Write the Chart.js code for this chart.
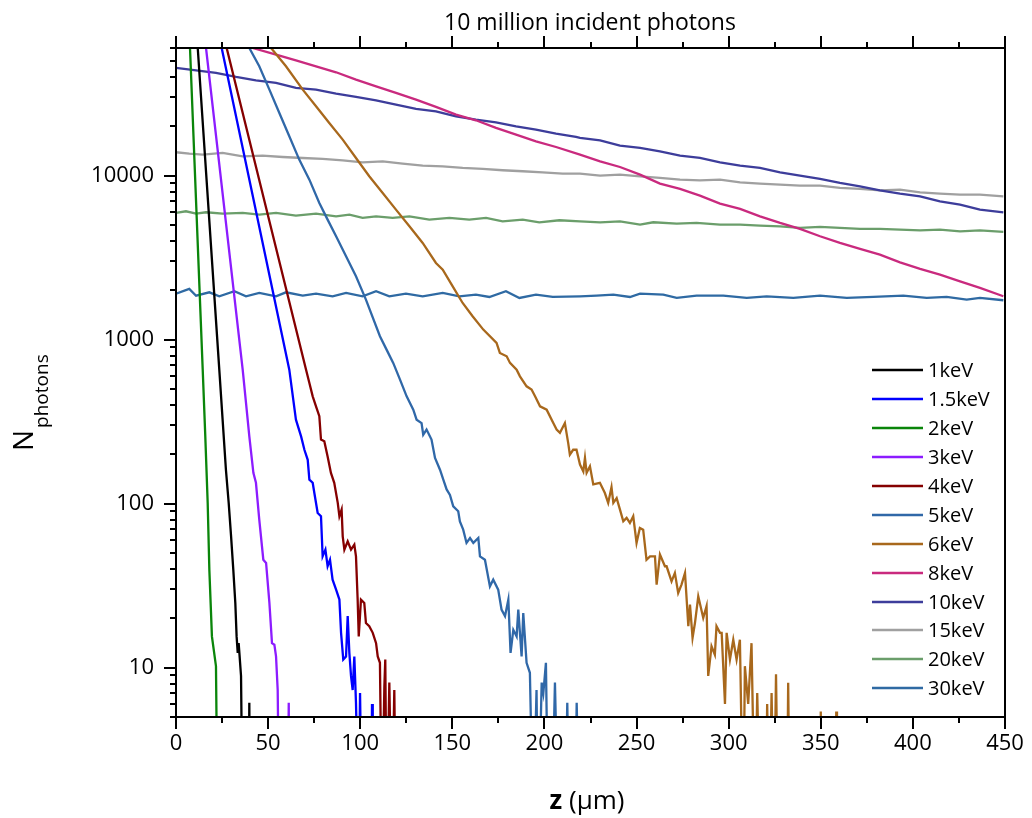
<!DOCTYPE html>
<html>
<head>
<meta charset="utf-8">
<title>Photon depth profiles</title>
<script src="https://cdn.jsdelivr.net/npm/chart.js@4.4.1/dist/chart.umd.min.js"></script>
<style>
  html, body { margin: 0; padding: 0; background: #fff; }
  #wrap { position: relative; width: 1032px; height: 818px; }
</style>
</head>
<body>
<div id="wrap"><canvas id="depthChart"></canvas></div>
<script>
// z (um) vs photon count. 1 = dropped below the axis floor
const seriesLabels = ['1keV', '1.5keV', '2keV', '3keV', '4keV', '5keV', '6keV', '8keV', '10keV', '15keV', '20keV', '30keV'];

const keV1 = [[11.8, 60000], [23.5, 656], [25.3, 325], [27.1, 161], [28.6, 101], [29.9, 63.2], [31.1, 39.6], [32.2, 24.8],
  [32.9, 15.5], [33.5, 12.3], [34.0, 14.1], [34.4, 12.3], [35.3, 8.9], [36.2, 1], [39.4, 1], [39.8, 6.1], [40.2, 1]];

const keV1_5 = [[24.8, 60000], [61.5, 656], [65.1, 325], [67.9, 257], [69.7, 213], [71.5, 185], [72.4, 140],
  [74.2, 134], [75.1, 116], [76.9, 87.7], [78.7, 83.7], [79.6, 47.7], [81.1, 52.4], [82.3, 41.5], [83.6, 45.5], [85.0, 34.4],
  [86.9, 29.9], [88.7, 26], [89.6, 16.3], [90.8, 11.2], [92.3, 11.7], [93.2, 20.6], [94.1, 12.3], [95.0, 8.9], [95.9, 7.3],
  [96.8, 11.7], [97.7, 6.1], [99.2, 1], [99.9, 7], [101.0, 1], [105.9, 1], [106.4, 6], [106.8, 1]];

const keV2 = [[7.6, 60000], [14.5, 656], [15.9, 257], [17.2, 101], [18.1, 39.6], [19.5, 15.5], [21.7, 10.2], [22.6, 1]];

const keV3 = [[16.3, 60000], [36.2, 656], [38.0, 411], [39.8, 257], [42.0, 154], [43.4, 134], [45.2, 79.9], [47.4, 45.5],
  [48.9, 43.5], [50.7, 24.8], [52.1, 14.1], [53.4, 13.8], [54.3, 11.7], [55.2, 7.3], [56.1, 1], [60.6, 1], [61.2, 6.1], [61.6, 1]];

const keV4 = [[27.5, 60000], [70.6, 656], [72.4, 544], [74.2, 451], [76.0, 392], [77.8, 341], [78.7, 246], [80.5, 240],
  [82.3, 194], [84.1, 154], [85.9, 134], [87.8, 101], [88.7, 83.7], [89.9, 91.9], [90.5, 63.2], [91.4, 52.4], [93.2, 58.9],
  [95.0, 52.4], [96.8, 56.2], [97.7, 47.7], [98.6, 26], [99.2, 15.5], [100.4, 26], [102.2, 24.8], [103.1, 18.7], [104.9, 17.9],
  [106.8, 16.3], [108.6, 14.1], [109.5, 11.7], [110.7, 10.7], [111.8, 1], [113.1, 7.7], [113.6, 11.2], [114.4, 1],
  [115.8, 8.1], [117.2, 1], [118.5, 7.3], [119.4, 1]];

const keV5 = [[39.8, 60000], [45.2, 46420], [50.7, 33450], [56.1, 24110], [61.5, 17370], [66.9, 12520], [72.4, 9454],
  [77.8, 6815], [82.3, 5392], [86.9, 4267], [92.3, 3222], [97.7, 2434], [103.1, 1754], [110.7, 1048], [114.3, 869],
  [117.9, 721], [121.6, 570], [125.2, 451], [128.8, 374], [130.6, 325], [133.3, 310], [134.2, 263], [136.0, 283],
  [138.7, 246], [140.6, 190], [143.3, 161], [145.1, 140], [146.9, 122], [148.7, 113], [150.5, 96.3], [153.2, 89.8],
  [154.1, 78], [155.9, 69.4], [157.7, 57.6], [159.6, 61.7], [161.4, 57.6], [164.1, 61.7], [165.0, 47.7], [167.7, 45.5],
  [170.4, 31.3], [172.2, 34.4], [174.9, 29.9], [176.7, 22.6], [178.6, 20.6], [180.4, 26], [181.6, 12.3], [183.1, 17],
  [184.9, 15.5], [185.8, 22.6], [187.6, 11.7], [188.5, 21.5], [190.3, 10.7], [192.1, 9.3], [193.9, 1], [195.7, 7.3],
  [196.6, 1], [198.5, 8.1], [199.4, 7], [200.8, 10.7], [202.1, 1], [203.9, 1], [205.7, 8.1], [207.5, 1], [211.1, 1],
  [212.4, 6.1], [213.5, 1], [216.5, 1], [217.5, 6.1], [218.9, 1]];

const keV6 = [[51.6, 60000], [59.7, 46420], [68.8, 33450], [76.0, 26480], [83.2, 20950], [90.5, 16580], [97.7, 12810],
  [104.9, 9906], [112.2, 7840], [119.4, 6205], [126.7, 4910], [133.9, 3886], [141.1, 2934], [144.8, 2672], [150.2, 2114],
  [155.6, 1673], [161.0, 1388], [166.8, 1151], [174.0, 954], [175.8, 829], [179.5, 791], [181.3, 721], [184.9, 656],
  [186.7, 597], [190.3, 519], [193.0, 496], [194.9, 451], [197.6, 392], [201.2, 374], [204.8, 310], [206.6, 283],
  [208.4, 270], [211.1, 310], [212.9, 234], [213.8, 199], [215.6, 213], [217.4, 213], [219.3, 173], [221.1, 157],
  [222.0, 190], [222.9, 154], [224.7, 169], [226.5, 131], [230.1, 134], [232.8, 116], [234.6, 101], [236.4, 126],
  [237.4, 101], [239.2, 108], [241.0, 91.9], [242.8, 78], [244.6, 81.8], [246.4, 76.2], [248.2, 83.7], [250.0, 57.6],
  [251.8, 71], [253.6, 69.4], [255.4, 45.5], [257.3, 47.7], [260.0, 47.7], [260.9, 32.1], [262.7, 48.9], [265.4, 41.5],
  [266.3, 41.5], [269.0, 33.6], [270.8, 37.8], [272.6, 28.5], [274.4, 32.1], [276.3, 37.8], [278.1, 17.9], [279.0, 24.2],
  [280.4, 15.2], [281.7, 18.7], [283.5, 27.2], [286.2, 20.1], [288.0, 23.7], [288.9, 8.9], [290.7, 13.5], [292.5, 12],
  [293.4, 17.9], [295.3, 16.3], [296.2, 16.3], [298.0, 6], [298.9, 16.3], [300.7, 11.2], [302.5, 14.8], [304.3, 11.2],
  [306.1, 14.8], [307.9, 1], [308.8, 10.2], [310.6, 6], [312.4, 14.1], [314.3, 1], [315.5, 7], [317.3, 1], [320.0, 1],
  [320.9, 6], [322.0, 1], [323.3, 7], [324.6, 1], [325.7, 9.1], [326.9, 1], [331.6, 1], [332.3, 8.1], [333.2, 1],
  [349.6, 1], [350.0, 5.4], [350.4, 1], [358.0, 1], [358.4, 5.4], [358.8, 1]];

const keV8 = [[41.6, 60000], [54.3, 54660], [65.1, 50500], [76.0, 46420], [86.9, 42670], [97.7, 38500], [108.6, 35050],
  [119.4, 31920], [130.3, 29070], [141.1, 26230], [152.0, 23550], [162.8, 21750], [173.7, 19530], [184.6, 17780],
  [195.4, 16190], [206.3, 14950], [219.3, 13430], [230.2, 12230], [241.0, 11290], [251.9, 10140], [262.7, 8936],
  [273.6, 8293], [284.4, 7551], [295.3, 6752], [306.2, 6263], [317.0, 5649], [327.9, 5145], [338.7, 4730], [349.6, 4267],
  [360.4, 3886], [371.3, 3572], [382.1, 3299], [393.0, 2961], [403.9, 2697], [414.7, 2491], [425.6, 2268], [436.4, 2066],
  [449.1, 1838]];

const keV10 = [[0, 45350], [10.9, 43880], [21.7, 42270], [32.6, 39960], [43.4, 38130], [54.3, 36730], [65.1, 34240],
  [76.0, 33450], [86.9, 31620], [97.7, 30180], [108.6, 28800], [119.4, 27090], [130.3, 25500], [141.1, 24680],
  [152.0, 23000], [162.8, 21960], [173.7, 21150], [184.6, 19990], [195.4, 19080], [206.3, 18040], [217.1, 17210],
  [219.3, 16970], [230.2, 16420], [241.0, 15240], [251.9, 14750], [262.7, 14070], [273.6, 13240], [284.4, 12810],
  [295.3, 12060], [306.2, 11510], [317.0, 11140], [327.9, 10480], [338.7, 10000], [349.6, 9543], [360.4, 9023],
  [371.3, 8610], [382.1, 8140], [393.0, 7768], [403.9, 7482], [414.7, 6976], [425.6, 6658], [436.4, 6205], [449.1, 5977]];

const keV15 = [[0, 13880], [7.2, 13620], [14.5, 13430], [25.3, 13750], [36.2, 13120], [47.0, 13240], [57.9, 12990],
  [68.8, 12810], [79.6, 12640], [90.5, 12400], [101.3, 12060], [112.2, 12230], [123.0, 11840], [133.9, 11510],
  [144.8, 11400], [155.6, 11140], [166.5, 10980], [177.3, 10780], [188.2, 10630], [199.0, 10480], [209.9, 10290],
  [219.3, 10290], [230.2, 10000], [241.0, 10140], [251.9, 9906], [262.7, 9678], [273.6, 9454], [284.4, 9365],
  [295.3, 9454], [306.2, 9104], [317.0, 8936], [327.9, 8811], [338.7, 8689], [349.6, 8689], [360.4, 8410], [371.3, 8293],
  [382.1, 8140], [393.0, 8216], [403.9, 7915], [414.7, 7768], [425.6, 7660], [436.4, 7660], [449.1, 7482]];

const keV20 = [[0, 5922], [5.4, 6060], [10.9, 5866], [16.3, 5978], [25.3, 5866], [36.2, 5922], [45.2, 5784], [54.3, 5922],
  [65.1, 5704], [76.0, 5866], [86.9, 5649], [94.1, 5784], [101.3, 5520], [108.6, 5649], [117.6, 5520], [126.7, 5649],
  [137.5, 5392], [148.4, 5520], [159.2, 5392], [168.3, 5520], [177.3, 5267], [188.2, 5392], [197.2, 5194], [208.1, 5342],
  [219.3, 5267], [230.2, 5194], [241.0, 5267], [251.9, 5026], [259.1, 5194], [271.8, 5097], [282.6, 5145], [295.3, 5026],
  [306.2, 5026], [317.0, 4956], [327.9, 4910], [338.7, 4797], [349.6, 4864], [360.4, 4797], [371.3, 4730], [382.1, 4730],
  [393.0, 4685], [403.9, 4642], [414.7, 4685], [425.6, 4577], [436.4, 4642], [449.1, 4535]];

const keV30 = [[0, 1907], [7.2, 2038], [10.9, 1853], [18.1, 1943], [23.5, 1836], [31.7, 1972], [38.0, 1836], [45.2, 1928],
  [54.3, 1836], [59.7, 1943], [68.8, 1853], [76.0, 1907], [85.0, 1836], [92.3, 1928], [101.3, 1836], [108.6, 1972],
  [115.8, 1836], [124.8, 1907], [133.9, 1836], [144.8, 1928], [153.8, 1836], [162.8, 1880], [170.1, 1820], [179.1, 1972],
  [186.4, 1795], [195.4, 1880], [204.5, 1820], [219.3, 1836], [228.3, 1853], [237.4, 1880], [246.4, 1820], [251.9, 1907],
  [264.5, 1880], [271.8, 1795], [282.6, 1853], [297.1, 1853], [309.8, 1795], [320.6, 1836], [335.1, 1795], [349.6, 1853],
  [364.1, 1795], [378.5, 1820], [394.8, 1853], [407.5, 1795], [418.3, 1820], [429.2, 1753], [436.4, 1795], [449.1, 1738]];

const seriesData = [keV1, keV1_5, keV2, keV3, keV4, keV5, keV6, keV8, keV10, keV15, keV20, keV30];
const seriesColors = ['#000000', '#0000ff', '#0a850a', '#8c1cff', '#850000', '#3068a8', '#a8681c', '#c92a7e',
  '#3d3d9b', '#a0a0a0', '#6b9e6b', '#2f6aa3'];

const xMajorTicks = [0, 50, 100, 150, 200, 250, 300, 350, 400, 450];
const xMinorTicks = [25, 75, 125, 175, 225, 275, 325, 375, 425];
const yMajorTicks = [10, 100, 1000, 10000];
const yMinorTicks = [5, 6, 7, 8, 9, 20, 30, 40, 50, 60, 70, 80, 90, 200, 300, 400, 500, 600, 700, 800, 900,
  2000, 3000, 4000, 5000, 6000, 7000, 8000, 9000, 20000, 30000, 40000, 50000, 60000];

const FONT = "'Open Sans', sans-serif";
Chart.defaults.font.family = FONT;
Chart.defaults.color = '#000';

// frame, tick marks, titles and the legend box inside the plot
const decorations = {
    id: 'decorations',
    afterDatasetsDraw(chart) {
        const { ctx, chartArea: a, scales } = chart;
        ctx.save();
        ctx.strokeStyle = '#000';
        ctx.lineWidth = 2;
        ctx.strokeRect(a.left, a.top, a.right - a.left, a.bottom - a.top);

        ctx.beginPath();
        const xTick = (v, len) => {
            const px = Math.round(scales.x.getPixelForValue(v));
            ctx.moveTo(px, a.bottom); ctx.lineTo(px, a.bottom + len);
            ctx.moveTo(px, a.top); ctx.lineTo(px, a.top - len);
        };
        const yTick = (v, len) => {
            const py = Math.round(scales.y.getPixelForValue(v));
            ctx.moveTo(a.left, py); ctx.lineTo(a.left - len, py);
        };
        xMajorTicks.forEach(v => xTick(v, 12));
        xMinorTicks.forEach(v => xTick(v, 6));
        yMajorTicks.forEach(v => yTick(v, 12));
        yMinorTicks.forEach(v => yTick(v, 6));
        ctx.stroke();

        // legend
        ctx.font = '20px ' + FONT;
        ctx.textAlign = 'left';
        ctx.textBaseline = 'middle';
        ctx.fillStyle = '#000';
        ctx.lineWidth = 2.5;
        chart.data.datasets.forEach((ds, i) => {
            const y = Math.round(a.top + 322 + i * 28.94);
            ctx.strokeStyle = ds.borderColor;
            ctx.beginPath();
            ctx.moveTo(a.right - 133, y);
            ctx.lineTo(a.right - 82, y);
            ctx.stroke();
            ctx.fillText(ds.label, a.right - 77, y + 1);
        });
        ctx.restore();
    },
    afterDraw(chart) {
        const { ctx } = chart;
        ctx.save();
        ctx.fillStyle = '#000';
        ctx.textBaseline = 'alphabetic';

        ctx.font = '23px ' + FONT;
        ctx.textAlign = 'center';
        ctx.fillText('10 million incident photons', 590, 30);

        // z (μm)
        ctx.textAlign = 'left';
        ctx.font = 'bold 26px ' + FONT;
        const zW = ctx.measureText('z').width;
        ctx.font = '26px ' + FONT;
        const restW = ctx.measureText(' (μm)').width;
        let x0 = 587 - (zW + restW) / 2;
        ctx.font = 'bold 26px ' + FONT;
        ctx.fillText('z', x0, 809);
        ctx.font = '26px ' + FONT;
        ctx.fillText(' (μm)', x0 + zW, 809);

        // N_photons, rotated
        ctx.translate(33, 451);
        ctx.rotate(-Math.PI / 2);
        ctx.font = '28px ' + FONT;
        ctx.fillText('N', 0, 0);
        const nW = ctx.measureText('N').width;
        ctx.font = '19px ' + FONT;
        ctx.fillText('photons', nW + 2, 15);
        ctx.restore();
    }
};

new Chart(document.getElementById('depthChart'), {
    type: 'line',
    data: {
        datasets: seriesData.map((pts, i) => ({
            label: seriesLabels[i],
            data: pts,
            borderColor: seriesColors[i],
            backgroundColor: seriesColors[i],
            borderWidth: 2.3,
            pointRadius: 0,
            tension: 0,
            fill: false,
            clip: 0
        }))
    },
    options: {
        responsive: true,
        maintainAspectRatio: false,
        animation: false,
        events: [],
        layout: { padding: { top: 48, right: 27, left: 0, bottom: 0 } },
        plugins: {
            legend: { display: false },
            tooltip: { enabled: false }
        },
        scales: {
            x: {
                type: 'linear',
                min: 0,
                max: 450,
                grid: { display: false, drawTicks: false },
                border: { display: false },
                ticks: { stepSize: 50, padding: 14, autoSkip: false, maxRotation: 0, font: { size: 22 } },
                afterFit: (scale) => {
                    scale.height = 101;
                    scale.paddingLeft = 0;
                    scale.paddingRight = 0;
                }
            },
            y: {
                type: 'logarithmic',
                min: 5,
                max: 60000,
                grid: { display: false, drawTicks: false },
                border: { display: false },
                ticks: { padding: 22, font: { size: 22 }, callback: (v) => String(v) },
                afterBuildTicks: (scale) => { scale.ticks = yMajorTicks.map(v => ({ value: v })); },
                afterFit: (scale) => {
                    scale.width = 176;
                    scale.paddingTop = 0;
                    scale.paddingBottom = 0;
                }
            }
        }
    },
    plugins: [decorations]
});
</script>
</body>
</html>
